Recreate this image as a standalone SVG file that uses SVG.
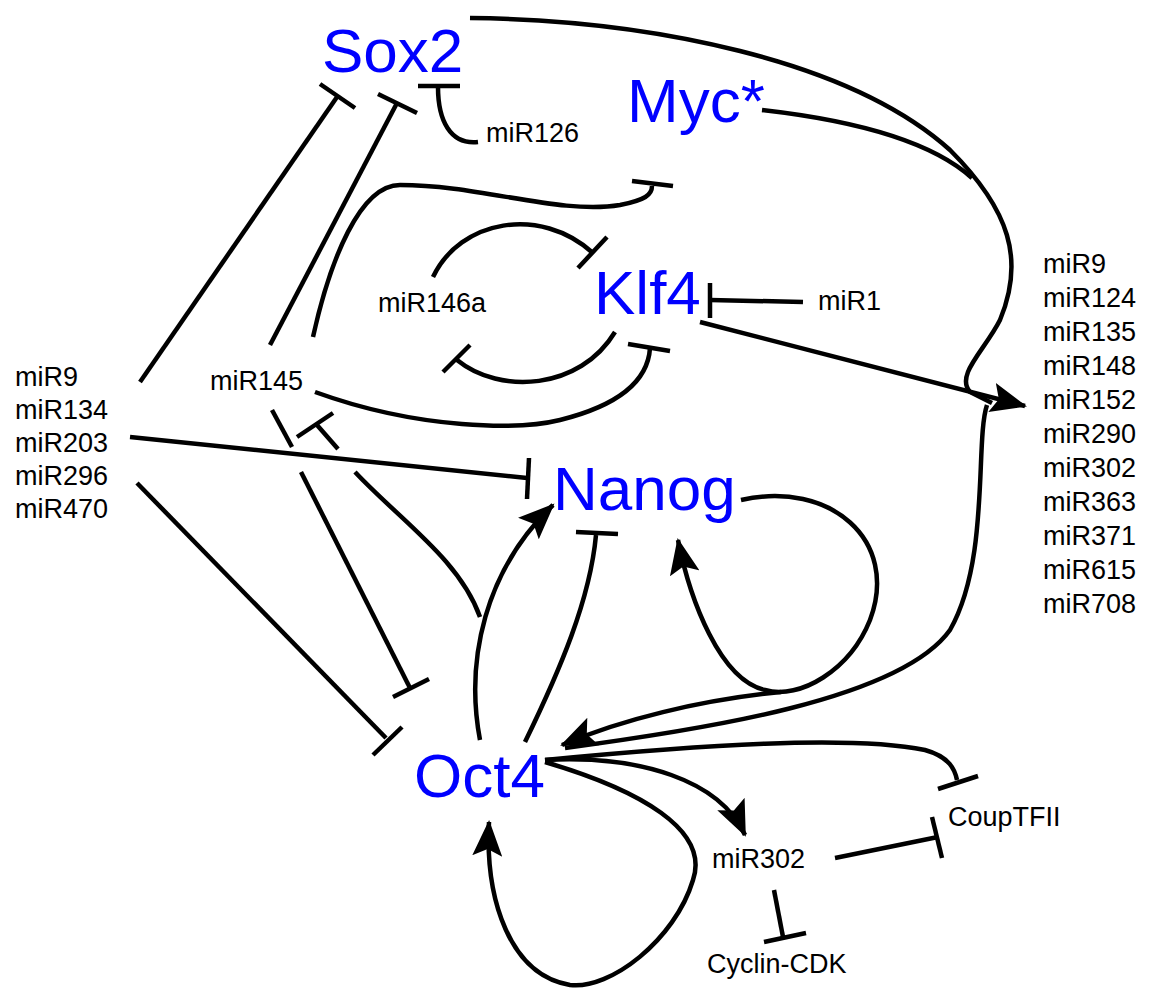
<svg xmlns="http://www.w3.org/2000/svg" width="1155" height="1000" viewBox="0 0 1155 1000">
<style>
.n{font-family:"Liberation Sans",Arial,sans-serif;font-size:62px;fill:#0000ff}
.t{font-family:"Liberation Sans",Arial,sans-serif;font-size:27px;fill:#000}
.e{fill:none;stroke:#000;stroke-width:4.5;stroke-linecap:butt}
</style>
<defs>
<marker id="a" markerUnits="userSpaceOnUse" markerWidth="40" markerHeight="30" refX="34" refY="15" orient="auto"><path d="M0,0 L36,15 L0,30 L7,15 Z" fill="#000"/></marker>
</defs>
<rect width="1155" height="1000" fill="#fff"/>
<g id="connectors">
<path class="e" d="M140,382 L337,97"/><path class="e" d="M320,84 L355,108"/>
<path class="e" d="M270,345 L397,103"/><path class="e" d="M378,94 L417,113"/>
<path class="e" d="M478,142 C450,145 438,120 438,87"/><path class="e" d="M418,86 L460,86"/>
<path class="e" d="M313,337 C330,260 360,185 400,185 C480,185 560,215 620,205 C645,200 652,195 652,186"/><path class="e" d="M632,181 L673,186"/>
<path class="e" d="M433,277 C460,220 540,205 593,253"/><path class="e" d="M578,268 L607,237"/>
<path class="e" d="M615,332 C580,390 500,395 457,360"/><path class="e" d="M443,372 L470,345"/>
<path class="e" d="M315,392 C420,430 520,430 560,420 C620,405 648,380 650,348"/><path class="e" d="M628,344 L670,351"/>
<path class="e" d="M803,302 L710,300"/><path class="e" d="M710,283 L710,318"/>
<path class="e" d="M700,322 L1025,406" marker-end="url(#a)"/>
<path class="e" d="M470,18 C650,20 850,60 950,150 C1010,210 1025,260 1000,320 C985,350 955,375 970,392 L992,403"/>
<path class="e" d="M762,110 C850,120 930,140 972,178"/>
<path class="e" d="M987,405 C975,440 990,560 950,630 C900,700 700,730 565,748"/>
<path class="e" d="M741,500 C830,480 900,540 870,620 C850,670 800,700 765,690 C720,680 690,600 678,540" marker-end="url(#a)"/>
<path class="e" d="M781,692 C700,700 620,720 562,745" marker-end="url(#a)"/>
<path class="e" d="M130,437 L527,478"/><path class="e" d="M529,458 L527,499"/>
<path class="e" d="M137,483 L386,738"/><path class="e" d="M373,755 L402,727"/>
<path class="e" d="M272,410 L292,447"/><path class="e" d="M301,472 L410,688"/><path class="e" d="M393,697 L429,679"/>
<path class="e" d="M480,740 C465,660 485,570 553,505" marker-end="url(#a)"/>
<path class="e" d="M480,617 C460,560 400,520 355,472"/><path class="e" d="M338,449 L317,425"/><path class="e" d="M297,437 L333,413"/>
<path class="e" d="M525,742 C560,670 590,600 596,535"/><path class="e" d="M576,532 L618,534"/>
<path class="e" d="M545,760 C700,745 850,735 925,750 C950,757 955,770 957,780"/><path class="e" d="M938,789 L978,776"/>
<path class="e" d="M545,760 C640,755 720,780 745,835" marker-end="url(#a)"/>
<path class="e" d="M545,762 C640,790 710,830 693,880 C675,940 610,990 570,985 C510,975 485,900 489,822" marker-end="url(#a)"/>
<path class="e" d="M835,858 L938,837"/><path class="e" d="M932,817 L942,858"/>
<path class="e" d="M774,890 L783,937"/><path class="e" d="M764,942 L806,933"/>
</g>
<g id="Sox2"><text class="n" x="322" y="72">Sox2</text></g>
<g id="Myc"><text class="n" x="627" y="122">Myc*</text></g>
<g id="Klf4"><text class="n" x="594" y="314">Klf4</text></g>
<g id="Nanog"><text class="n" x="553" y="510">Nanog</text></g>
<g id="Oct4"><text class="n" x="414" y="797">Oct4</text></g>
<g id="miR126"><text class="t" x="486" y="142">miR126</text></g>
<g id="miR146a"><text class="t" x="378" y="312">miR146a</text></g>
<g id="miR1"><text class="t" x="818" y="310">miR1</text></g>
<g id="miR145"><text class="t" x="210" y="390">miR145</text></g>
<g id="leftList"><text class="t" x="15" y="386">miR9</text><text class="t" x="15" y="419">miR134</text><text class="t" x="15" y="452">miR203</text><text class="t" x="15" y="485">miR296</text><text class="t" x="15" y="518">miR470</text></g>
<g id="rightList"><text class="t" x="1043" y="273">miR9</text><text class="t" x="1043" y="307">miR124</text><text class="t" x="1043" y="341">miR135</text><text class="t" x="1043" y="375">miR148</text><text class="t" x="1043" y="409">miR152</text><text class="t" x="1043" y="443">miR290</text><text class="t" x="1043" y="477">miR302</text><text class="t" x="1043" y="511">miR363</text><text class="t" x="1043" y="545">miR371</text><text class="t" x="1043" y="579">miR615</text><text class="t" x="1043" y="613">miR708</text></g>
<g id="miR302"><text class="t" x="712" y="868">miR302</text></g>
<g id="CoupTFII"><text class="t" x="948" y="826">CoupTFII</text></g>
<g id="CyclinCDK"><text class="t" x="707" y="973">Cyclin-CDK</text></g>
</svg>
